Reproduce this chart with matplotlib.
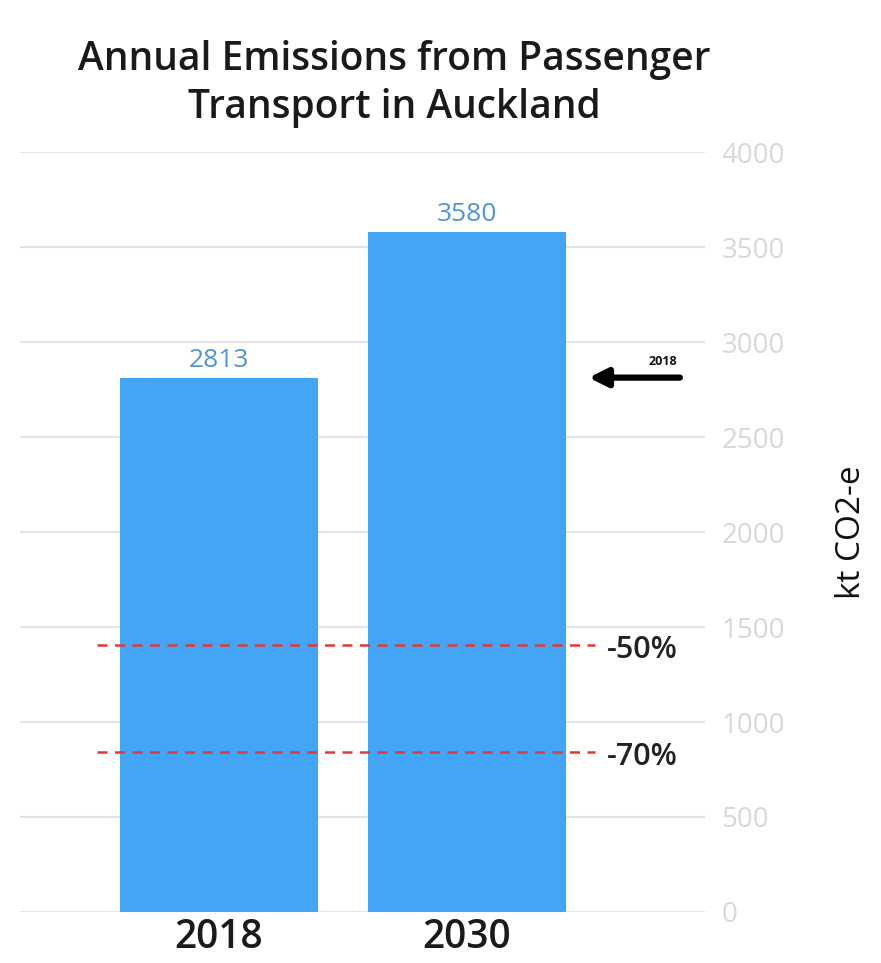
import matplotlib
matplotlib.use("Agg")
import matplotlib.pyplot as plt

years = ["2018", "2030"]
emissions = [2813, 3580]
targets = [0.5, 0.3]
target_labels = ["-50%", "-70%"]
yticks = [0, 500, 1000, 1500, 2000, 2500, 3000, 3500, 4000]

plt.rcParams['font.family'] = ['Open Sans', 'DejaVu Sans']

fig = plt.figure(figsize=(8.81, 9.63), dpi=100)
ax = fig.add_axes([0.0227, 0.053, 0.7775, 0.789])

x = list(range(len(years)))
bar_color = "#42A5F5"
ax.bar(x, emissions, width=0.8, color=bar_color, zorder=3)
for xi, v in zip(x, emissions):
    ax.text(xi, v + 25, f"{v}", ha="center", va="bottom", color="#4F95D6",
            fontsize=19, zorder=4)

ax.set_xlim(-0.802, 1.96)
ax.set_ylim(0, 4000)
ax.set_yticks(yticks)
for t in yticks:
    ax.axhline(t, color="#e3e3e3", lw=1.5, zorder=1)
ax.yaxis.tick_right()
ax.tick_params(axis="y", length=0, pad=12, labelcolor="#d8d8d8", labelsize=20)
ax.set_yticklabels([str(t) for t in yticks])
ax.set_xticks(x)
ax.set_xticklabels(years, fontsize=28, fontweight="semibold", color="#1a1a1a")
ax.tick_params(axis="x", length=0, pad=4)
for s in ax.spines.values():
    s.set_visible(False)

base = emissions[0]
for frac, lab in zip(targets, target_labels):
    yv = base * frac
    ax.plot([-0.49, 1.516], [yv, yv], color="#e53935", lw=1.8,
            ls=(0, (4, 3)), zorder=5)
    ax.text(1.565, yv - 30, lab, ha="left", va="center", fontsize=22,
            fontweight="semibold", color="#222222")

ax.annotate("", xy=(1.48, base + 0), xytext=(1.87, base + 0),
            arrowprops=dict(arrowstyle="-|>,head_width=0.55,head_length=1.1",
                            color="black", lw=4.5), zorder=6)
ax.text(1.79, base + 50, "2018", fontsize=9, fontweight="bold",
        ha="center", va="bottom", color="#111111")

ax.set_ylabel("kt CO2-e", fontsize=24, color="#111111", labelpad=36)
ax.yaxis.set_label_position("right")

fig.text(0.448, 0.913, "Annual Emissions from Passenger\nTransport in Auckland",
         ha="center", va="center", fontsize=28, fontweight="semibold",
         color="#1a1a1a", linespacing=1.25)

fig.savefig("out.png", dpi=100, facecolor="white")
